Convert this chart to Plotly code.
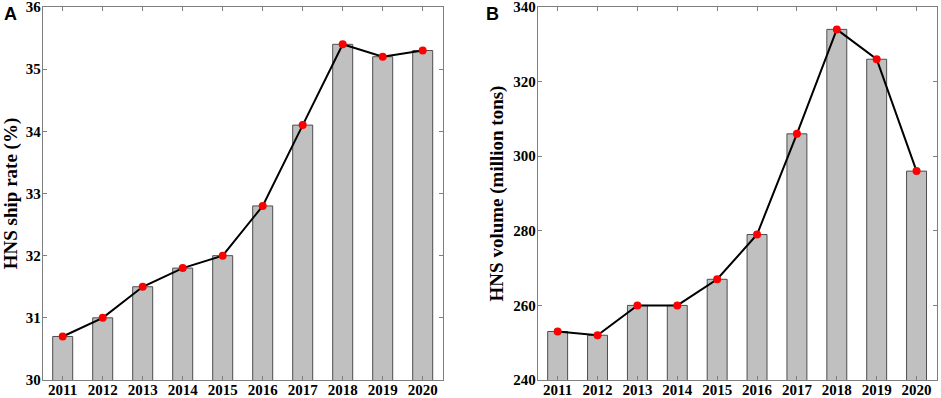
import plotly.graph_objects as go

years = ["2011", "2012", "2013", "2014", "2015", "2016", "2017", "2018", "2019", "2020"]
ship_rate = [30.7, 31.0, 31.5, 31.8, 32.0, 32.8, 34.1, 35.4, 35.2, 35.3]
hns_volume = [253, 252, 260, 260, 267, 279, 306, 334, 326, 296]
rate_ticks = [30, 31, 32, 33, 34, 35, 36]
volume_ticks = [240, 260, 280, 300, 320, 340]

bar_fill = "#c0c0c0"
bar_line = "#4d4d4d"
axis_col = "#7f7f7f"
serif = "Liberation Serif, Times New Roman, serif"

fig = go.Figure()

for vals, xa, ya in [(ship_rate, "x", "y"), (hns_volume, "x2", "y2")]:
    fig.add_trace(go.Bar(x=years, y=vals, xaxis=xa, yaxis=ya, width=0.5,
                         marker=dict(color=bar_fill, line=dict(color=bar_line, width=1)),
                         showlegend=False, hoverinfo="skip"))
    fig.add_trace(go.Scatter(x=years, y=vals, xaxis=xa, yaxis=ya, mode="lines+markers",
                             line=dict(color="black", width=2),
                             marker=dict(color="#ff0000", size=8, line=dict(width=0)),
                             showlegend=False))

bold = lambda vals: ["<b>%s</b>" % v for v in vals]

ydom = [1 - 380 / 398, 1 - 7 / 398]
tf = dict(family=serif, size=15, color="black")
common_x = dict(type="category", range=[-0.5, 9.5], showline=True, linecolor=axis_col, linewidth=1,
                mirror="ticks", ticks="inside", ticklen=4, tickcolor=axis_col, showgrid=False,
                tickvals=years, ticktext=bold(years), ticklabelstandoff=-4,
                tickfont=tf, automargin=False)
common_y = dict(showline=True, linecolor=axis_col, linewidth=1, mirror="ticks", ticks="inside",
                ticklen=4, tickcolor=axis_col, showgrid=False, zeroline=False, domain=ydom,
                tickfont=tf, automargin=False, ticklabeloverflow="allow", ticklabelstandoff=-2,
                title_font=dict(family=serif, size=19, color="black"), title_standoff=4)

fig.update_layout(
    width=941, height=398,
    margin=dict(l=0, r=0, t=0, b=0),
    paper_bgcolor="white", plot_bgcolor="white",
    bargap=0.5,
    xaxis=dict(domain=[42.7 / 941, 442.7 / 941], anchor="y", **common_x),
    xaxis2=dict(domain=[537.7 / 941, 936.5 / 941], anchor="y2", **common_x),
    yaxis=dict(anchor="x", range=[30, 36], tickvals=rate_ticks, ticktext=bold(rate_ticks),
               title_text="<b>HNS ship rate (%)</b>", **common_y),
    yaxis2=dict(anchor="x2", range=[240, 340], tickvals=volume_ticks, ticktext=bold(volume_ticks),
                title_text="<b>HNS volume (million tons)</b>", **common_y),
    annotations=[
        dict(text="<b>A</b>", x=2 / 941, y=1 - 14 / 398, xref="paper", yref="paper", xanchor="left", yanchor="middle",
             showarrow=False, font=dict(family="Liberation Sans, Arial, sans-serif", size=18, color="black")),
        dict(text="<b>B</b>", x=484 / 941, y=1 - 14 / 398, xref="paper", yref="paper", xanchor="left", yanchor="middle",
             showarrow=False, font=dict(family="Liberation Sans, Arial, sans-serif", size=18, color="black")),
    ],
)

fig.write_html("out.html", config={"displayModeBar": False},
               post_script="document.body.style.margin='0px';document.body.style.padding='0px';")
